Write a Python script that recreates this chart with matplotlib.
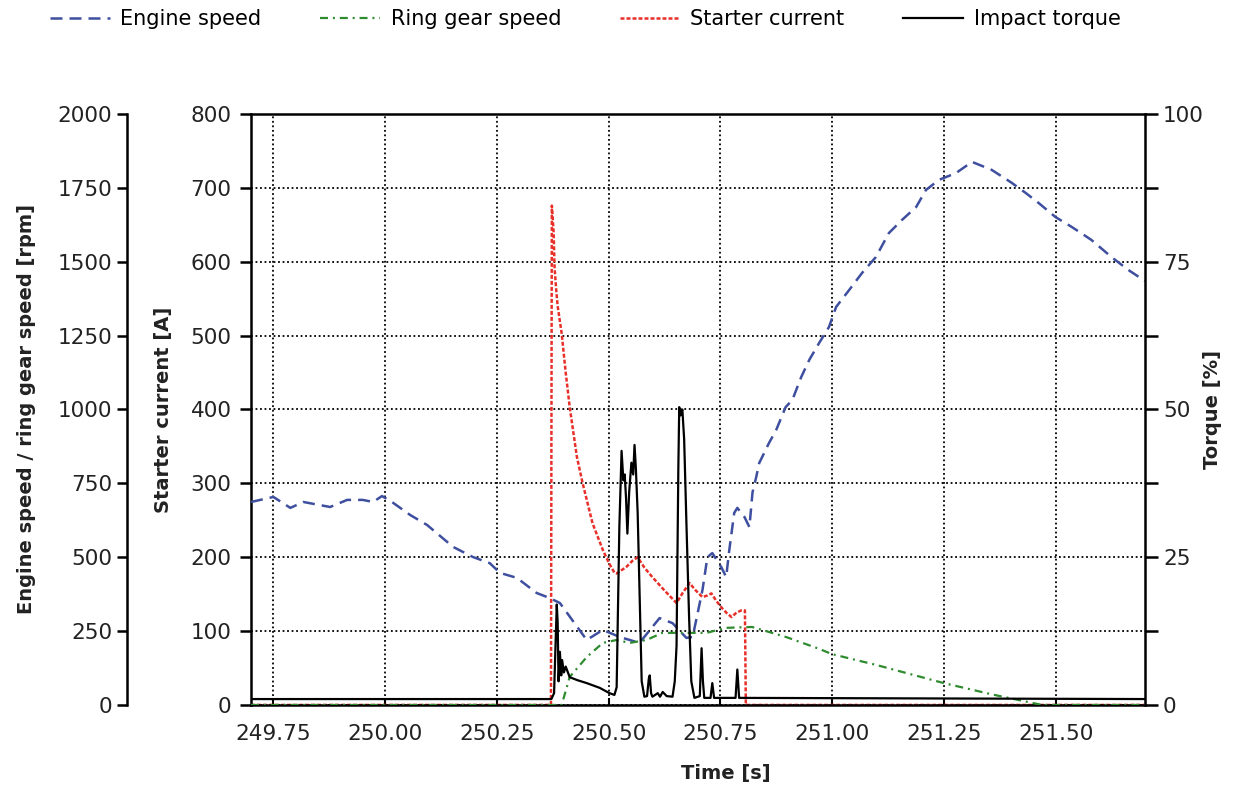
import matplotlib
matplotlib.use('Agg')
import matplotlib.pyplot as plt
from matplotlib import font_manager
from matplotlib.ticker import MultipleLocator, FormatStrFormatter

# engine speed [rpm]
t_engine = [249.70, 249.75, 249.788, 249.817, 249.877, 249.915, 249.95, 249.973, 249.993, 250.018,
            250.056, 250.094, 250.152, 250.196, 250.234, 250.257, 250.295, 250.339, 250.368, 250.391,
            250.451, 250.487, 250.525, 250.569, 250.614, 250.643, 250.674, 250.688, 250.71, 250.721,
            250.732, 250.752, 250.763, 250.77, 250.781, 250.788, 250.804, 250.815, 250.822, 250.83,
            250.837, 250.859, 250.875,
            250.896, 250.911, 250.931, 250.949, 250.971, 250.993, 251.009, 251.038, 251.067, 251.098,
            251.127, 251.156, 251.188, 251.21, 251.239, 251.277, 251.313, 251.357, 251.402, 251.433,
            251.462, 251.50, 251.536, 251.58, 251.625, 251.663, 251.70]
engine_speed = [687, 704, 667, 687, 670, 694, 694, 687, 707, 684,
                643, 609, 535, 501, 480, 447, 430, 379, 362, 345,
                220, 254, 230, 210, 294, 277, 227, 230, 389, 500,
                514, 467, 433, 524, 650, 667, 636, 602, 720, 770,
                819, 887, 931,
                1008, 1032, 1110, 1168, 1225, 1279, 1347, 1404, 1462, 1516,
                1597, 1641, 1685, 1743, 1777, 1800, 1838, 1811, 1767, 1733,
                1699, 1651, 1618, 1574, 1516, 1472, 1435]

# ring gear speed [rpm]
t_ring = [249.70, 250.395, 250.413, 250.451, 250.487, 250.518, 250.547, 250.585, 250.62, 250.658,
          250.719, 250.763, 250.821, 250.897, 250.971, 251.0, 251.10, 251.25, 251.36, 251.47, 251.70]
ring_speed = [0, 0, 95, 162, 210, 220, 210, 220, 244, 244,
              244, 261, 264, 230, 190, 172, 135, 74, 35, 0, 0]

# starter current [A]
t_current = [249.70, 250.371, 250.373, 250.377, 250.379, 250.383, 250.386, 250.395, 250.404, 250.413,
             250.429, 250.442, 250.464, 250.487, 250.50, 250.513, 250.518, 250.54, 250.553, 250.565,
             250.58, 250.598, 250.625, 250.652, 250.666, 250.681, 250.695, 250.71, 250.72, 250.73,
             250.742, 250.754, 250.765, 250.775, 250.786, 250.797, 250.805, 250.807, 251.70]
starter_current = [0, 0, 676, 640, 593, 560, 540, 503, 450, 403,
                   336, 300, 246, 210, 193, 179, 178, 187, 195, 200,
                   186, 173, 155, 138, 152, 165, 155, 146, 148, 151,
                   140, 131, 124, 119, 125, 128, 128, 0, 0]

# impact torque [%]
t_torque = [249.70, 250.372, 250.378, 250.382, 250.384, 250.386, 250.388, 250.391, 250.394, 250.396,
            250.40, 250.404, 250.413, 250.43, 250.451, 250.48, 250.502, 250.513, 250.518, 250.524,
            250.529, 250.533, 250.536, 250.539, 250.542, 250.546, 250.551, 250.555, 250.558, 250.561,
            250.565, 250.574, 250.580, 250.586, 250.590, 250.592, 250.595, 250.598, 250.61, 250.615,
            250.621, 250.63, 250.643, 250.648, 250.652, 250.656, 250.658, 250.661, 250.665, 250.669,
            250.674, 250.68, 250.685, 250.692, 250.704, 250.708, 250.711, 250.714, 250.728, 250.732,
            250.736, 250.784, 250.788, 250.792, 251.70]
impact_torque = [1.0, 1.0, 2, 12, 17, 14, 4, 9, 5, 7.6,
                 5.5, 6.5, 4.7, 4.2, 3.7, 2.9, 2.0, 1.7, 3, 30,
                 43, 38, 39, 35, 29, 36, 41, 39, 44, 40,
                 32.5, 4, 1.4, 1.5, 4.5, 5, 2, 1.4, 2, 1.4,
                 2.2, 1.5, 1.4, 4, 10, 40, 50.4, 49, 50, 45,
                 31, 15, 4, 1.2, 1.5, 9.6, 4, 1.2, 1.2, 3.7,
                 1.2, 1.2, 6, 1.2, 1.0]

x_ticks = [249.75, 250.00, 250.25, 250.50, 250.75, 251.00, 251.25, 251.50]

names = {f.name for f in font_manager.fontManager.ttflist}
narrow = 'Liberation Sans Narrow' if 'Liberation Sans Narrow' in names else 'DejaVu Sans'

plt.rcParams['font.family'] = ['DejaVu Sans']
txt = '#222222'

fig = plt.figure(figsize=(12.33, 7.89), dpi=100)
ax = fig.add_axes([0.2036, 0.1065, 0.725, 0.749])
ax_rpm = ax.twinx()
ax_tq = ax.twinx()

blue = '#3f4f9f'
green = '#2e8b2e'
red = '#e8302a'

l_cur, = ax.plot(t_current, starter_current, color=red, lw=1.8, ls=(0, (1.6, 0.8)))
l_eng, = ax_rpm.plot(t_engine, engine_speed, color=blue, lw=1.8, ls=(0, (4.8, 2.8)))
l_ring, = ax_rpm.plot(t_ring, ring_speed, color=green, lw=1.6, ls=(0, (3.6, 2.2, 0.9, 2.2)))
l_tq, = ax_tq.plot(t_torque, impact_torque, color='black', lw=1.6)

ax.set_xlim(249.70, 251.70)
ax.set_ylim(0, 800)
ax_rpm.set_ylim(0, 2000)
ax_tq.set_ylim(0, 100)

# grid
ax.set_xticks(x_ticks)
ax.xaxis.set_major_formatter(FormatStrFormatter('%.2f'))
ax.set_yticks(range(0, 801, 100))
ax.grid(True, color='black', lw=1.3, ls=(0, (1, 1.5)))

# spines
for a in (ax, ax_rpm, ax_tq):
    for s in a.spines.values():
        s.set_linewidth(1.8)
ax.spines['right'].set_visible(False)
for s in ('right', 'top', 'bottom'):
    ax_rpm.spines[s].set_visible(False)
ax_rpm.spines['left'].set_visible(True)
ax_rpm.spines['left'].set_position(('outward', 89))
ax_rpm.yaxis.set_ticks_position('left')
ax_rpm.yaxis.set_label_position('left')
for s in ('left', 'top', 'bottom'):
    ax_tq.spines[s].set_visible(False)

ax_rpm.set_yticks(range(0, 2001, 250))
ax_tq.yaxis.set_major_locator(MultipleLocator(25))
ax_tq.yaxis.set_minor_locator(MultipleLocator(12.5))

ax.tick_params(axis='x', direction='in', length=5, width=1.5, pad=14, labelsize=15.5, labelcolor=txt)
ax.tick_params(axis='y', direction='out', length=8, width=1.8, pad=6, labelsize=15.5, labelcolor=txt)
ax_rpm.tick_params(axis='y', direction='out', length=7, width=1.8, pad=4, labelsize=15.5, labelcolor=txt)
ax_tq.tick_params(axis='y', which='both', direction='out', length=9, width=1.8, pad=4,
                  labelsize=15.5, labelcolor=txt)
ax_tq.tick_params(axis='y', which='minor', labelright=False)

lab = dict(fontsize=14, fontweight='bold', family=[narrow, 'DejaVu Sans'], color=txt)
ax.set_xlabel('Time [s]', **lab)
ax.xaxis.set_label_coords(0.531, -0.100)
ax.set_ylabel('Starter current [A]', **lab)
ax.yaxis.set_label_coords(-0.087, 0.5)
ax_rpm.set_ylabel('Engine speed / ring gear speed [rpm]', **lab)
ax_rpm.yaxis.set_label_coords(-0.240, 0.5)
ax_tq.set_ylabel('Torque [%]', **lab)
ax_tq.yaxis.set_label_coords(1.065, 0.5)

fig.legend([l_eng, l_ring, l_cur, l_tq],
           ['Engine speed', 'Ring gear speed', 'Starter current', 'Impact torque'],
           loc='upper left', bbox_to_anchor=(0.025, 1.012), ncol=4, frameon=False,
           handlelength=2.9, handletextpad=0.5, columnspacing=2.8,
           prop={'family': [narrow, 'DejaVu Sans'], 'size': 15})

fig.savefig('out.png', dpi=100)
plt.close('all')
